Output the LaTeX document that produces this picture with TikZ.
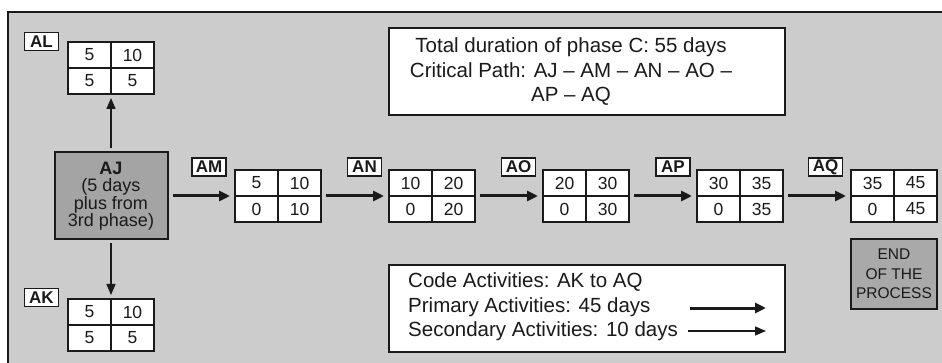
\documentclass[tikz,border=0pt]{standalone}
\usepackage{fontspec}
\setmainfont{Liberation Sans}
\usetikzlibrary{arrows.meta,calc}
\definecolor{bg}{HTML}{CCCCCC}
\definecolor{linec}{HTML}{1A1A1A}
\definecolor{darkbox}{HTML}{A4A4A4}
\definecolor{endfill}{HTML}{A9A9A9}
\newcommand\acttbl[6]{%
  \node[tbl] (#1) at (#2) {};
  \draw[innerline] (#1.north) -- (#1.south);
  \draw[innerline] (#1.west) -- (#1.east);
  \node[cell] (#1a) at ($(#1.center)+(-21.5,-13)$) {#3};
  \node[cell] (#1b) at ($(#1.center)+(21.5,-13)$) {#4};
  \node[cell] (#1c) at ($(#1.center)+(-21.5,13)$) {#5};
  \node[cell] (#1d) at ($(#1.center)+(21.5,13)$) {#6};
}
\begin{document}
\begin{tikzpicture}[x=1pt,y=-1pt,
  tbl/.style={draw=linec, fill=white, line width=2pt, minimum width=86pt, minimum height=52pt, inner sep=0pt},
  innerline/.style={draw=linec, line width=1.5pt},
  cell/.style={inner sep=0pt, font=\fontsize{17.5}{17.5}\selectfont, text=linec},
  lbl/.style={draw=linec, fill=white, line width=1.3pt, minimum width=34pt, minimum height=18pt, inner sep=0pt, font=\fontsize{17}{17}\selectfont\bfseries, text=linec},
  jbox/.style={draw=linec, fill=darkbox, line width=2pt, minimum width=113pt, minimum height=87pt, inner sep=0pt, align=center, font=\fontsize{18}{17.5}\selectfont, text=linec},
  endbox/.style={draw=linec, fill=endfill, line width=2pt, minimum width=86pt, minimum height=70pt, inner sep=0pt, align=center, font=\fontsize{15.5}{19.5}\selectfont, text=linec},
  txtbox/.style={draw=linec, fill=white, line width=2pt, minimum width=396pt, minimum height=87pt, inner sep=0pt},
  boxtext/.style={inner sep=0pt, font=\fontsize{20.5}{24.5}\selectfont, text=linec},
  thickarrow/.style={draw=linec, line width=3pt, -{Triangle[length=11pt,width=10pt]}},
  thinarrow/.style={draw=linec, line width=1.4pt, -{Triangle[length=11pt,width=9pt]}},
]
\useasboundingbox (0,0) rectangle (942,363);
\fill[white] (0,0) rectangle (942,363);
\draw[line width=2.5pt, draw=linec, fill=bg] (8,12) rectangle (952,375);

% tables
\acttbl{AL}{111,68}{5}{10}{5}{5}
\acttbl{AK}{111,325}{5}{10}{5}{5}
\acttbl{AM}{278,196}{5}{10}{0}{10}
\acttbl{AN}{432,196}{10}{20}{0}{20}
\acttbl{AO}{586,196}{20}{30}{0}{30}
\acttbl{AP}{740,196}{30}{35}{0}{35}
\acttbl{AQ}{894,196}{35}{45}{0}{45}

% labels
\node[lbl] (ALl) at (41.5,41.5) {AL};
\node[lbl] (AKl) at (41.5,297.5) {AK};
\node[lbl] (AMl) at (209,167) {AM};
\node[lbl] (ANl) at (364.5,167) {AN};
\node[lbl] (AOl) at (518.5,167) {AO};
\node[lbl] (APl) at (673,167) {AP};
\node[lbl] (AQl) at (825.5,167) {AQ};

% AJ and END
\node[jbox] (AJ) at (111,196) {\textbf{AJ}\\(5 days\\plus from\\3rd phase)};
\node[endbox] (END) at (894,274) {END\\OF THE\\PROCESS};

% connectors
\draw[thinarrow, shorten <=3pt, shorten >=3pt] (AJ.north) -- (AL.south);
\draw[thinarrow, shorten <=3pt, shorten >=3pt] (AJ.south) -- (AK.north);
\draw[thickarrow, shorten <=4pt, shorten >=4pt] (AJ.east) -- (AM.west);
\draw[thickarrow, shorten <=4pt, shorten >=4pt] (AM.east) -- (AN.west);
\draw[thickarrow, shorten <=4pt, shorten >=4pt] (AN.east) -- (AO.west);
\draw[thickarrow, shorten <=4pt, shorten >=4pt] (AO.east) -- (AP.west);
\draw[thickarrow, shorten <=4pt, shorten >=4pt] (AP.east) -- (AQ.west);

% top info box
\node[txtbox] (TB) at (587,71.5) {};
\node[boxtext, align=center] (TBt) at (571,72) {Total duration of phase C: 55 days\\Critical Path: AJ – AM – AN – AO –\\AP – AQ};

% legend
\node[txtbox] (LG) at (587,308.5) {};
\node[boxtext, align=left, anchor=west] (LGt) at (408,307) {Code Activities: AK to AQ\\Primary Activities: 45 days\\Secondary Activities: 10 days};
\coordinate (p1) at (690,308);
\coordinate (p2) at (766,308);
\coordinate (s1) at (688,331);
\coordinate (s2) at (766,331);
\draw[thickarrow] (p1) -- (p2);
\draw[thinarrow] (s1) -- (s2);
\end{tikzpicture}
\end{document}
